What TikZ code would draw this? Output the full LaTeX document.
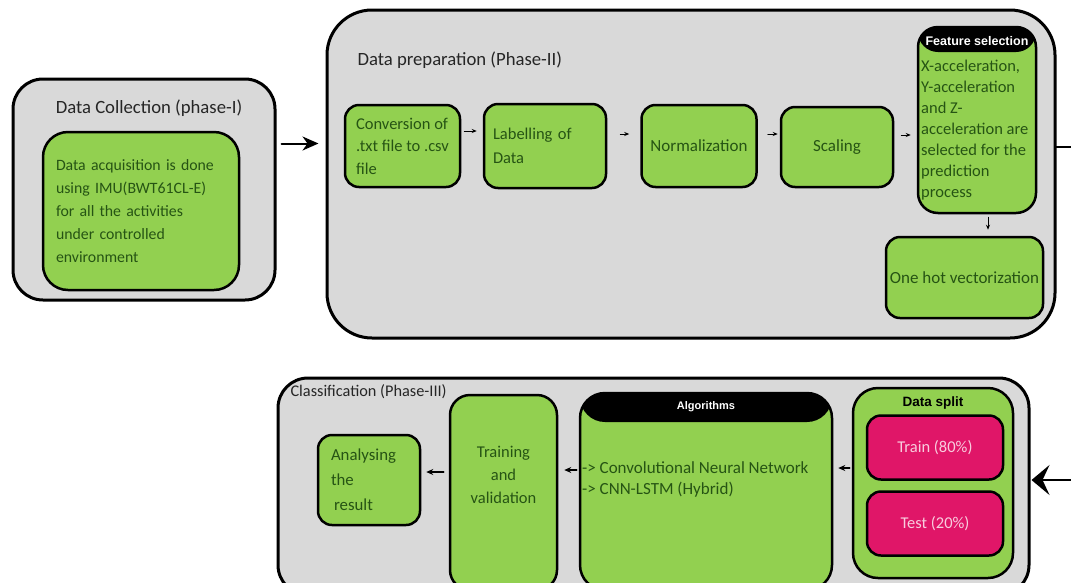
\documentclass[tikz,border=0pt]{standalone}
\usepackage{fontspec}
\setmainfont{Carlito}
\setsansfont{Liberation Sans}
\usetikzlibrary{arrows.meta, calc}
\definecolor{phasegray}{RGB}{217,217,217}
\definecolor{stagegreen}{RGB}{146,208,80}
\definecolor{txtgreen}{RGB}{38,84,20}
\definecolor{splitred}{RGB}{224,22,104}
\definecolor{splittext}{RGB}{248,205,222}

\begin{document}
\begin{tikzpicture}[x=1pt, y=-1pt, line cap=round, line join=round,
	phase/.style={draw=black, line width=3pt, fill=phasegray, rounded corners=30pt, inner sep=0pt},
	stage/.style={draw=black, line width=2.5pt, fill=stagegreen, rounded corners=14pt, text=txtgreen,
		font=\fontsize{17}{22.5}\selectfont, inner sep=1pt},
	splitbox/.style={draw=black, line width=2.5pt, fill=splitred, rounded corners=14pt, text=splittext,
		font=\fontsize{16.5}{19}\selectfont, minimum width=136pt, minimum height=64pt},
	ttl/.style={font=\fontsize{18.7}{22}\selectfont, text=black!85},
	hdr/.style={font=\sffamily\bfseries\fontsize{12.5}{14}\selectfont, text=white, inner sep=0pt},
	body/.style={font=\fontsize{16.5}{21}\selectfont, text=txtgreen, align=left, inner sep=0pt},
	sarrow/.style={-{Stealth[length=5pt,width=4pt]}, line width=0.8pt},
	larrow/.style={-{Stealth[length=7pt,width=6pt]}, line width=1.4pt},
	bigarrow/.style={-{Stealth[length=16pt,width=14pt,inset=5pt]}, line width=2pt}]
\useasboundingbox (0,0) rectangle (1071,582);

%========================
% Phase I: data collection
%========================
\node[phase, minimum width=262pt, minimum height=221pt] (ph1) at (144,189.5) {};
\node[ttl] (ph1title) at (149,108) {Data Collection (phase-I)};
\node[stage, rounded corners=25pt, minimum width=196pt, minimum height=158pt,
	text width=170pt, align=left, font=\fontsize{15.8}{23}\selectfont] (acq) at (141,211)
	{Data acquisition is done\\using IMU(BWT61CL-E)\\for all the activities\\under controlled\\environment};

%========================
% Phase II: data preparation
%========================
\node[phase, rounded corners=45pt, minimum width=728pt, minimum height=328pt] (ph2) at (691,174) {};
\node[ttl, anchor=west] (ph2title) at (354,60) {Data preparation (Phase-II)};

\node[stage, minimum width=115pt, minimum height=82pt, align=left, font=\fontsize{16.5}{22.5}\selectfont] (conv) at (402.5,146)
	{Conversion of\\.txt file to .csv\\file};
\node[stage, minimum width=122pt, minimum height=84pt, text width=104pt, align=left,
	font=\fontsize{16.5}{24}\selectfont] (lab) at (545,146) {Labelling of\\Data};
\node[stage, minimum width=115pt, minimum height=82pt] (norm) at (699,146) {Normalization};
\node[stage, minimum width=112pt, minimum height=80pt] (scale) at (837,147) {Scaling};

% feature selection, black header on top
\node[stage, rounded corners=20pt, minimum width=118pt, minimum height=186pt, inner sep=0pt,
	path picture={\fill[black] (path picture bounding box.north west)
		rectangle ([yshift=-25pt]path picture bounding box.north east);}] (feat) at (977,120) {};
\node[hdr] (feathdr) at (977,41) {Feature selection};
\node[body, anchor=west] (feattxt) at (921,130)
	{X-acceleration,\\Y-acceleration\\and Z-\\acceleration are\\selected for the\\prediction\\process};

\node[stage, minimum width=157pt, minimum height=81pt, inner sep=0pt] (onehot) at (964.5,277.5) {One hot vectorization};

% small arrows between the steps
\draw[sarrow, shorten <=3pt, shorten >=6pt] ([yshift=15pt]conv.east) -- ([yshift=15pt]conv.east -| lab.west);
\draw[sarrow, shorten <=13pt, shorten >=11pt] ([yshift=12pt]lab.east) -- ([yshift=12pt]lab.east -| norm.west);
\draw[sarrow, shorten <=10pt, shorten >=2pt] ([yshift=12pt]norm.east) -- ([yshift=12pt]norm.east -| scale.west);
\draw[sarrow, shorten <=7pt, shorten >=6pt] ([yshift=12pt]scale.east) -- ([yshift=12pt]scale.east -| feat.west);
\draw[sarrow, shorten <=3pt, shorten >=6pt] ([xshift=11pt]feat.south) -- ([xshift=11pt]feat.south |- onehot.north);

% link to phase III (leaves the picture on the right)
\coordinate (exit2) at (1071,147);
\draw[line width=2.5pt] (ph2.east |- exit2) -- (exit2);

% phase I -> phase II
\draw[bigarrow, shorten <=5pt, shorten >=7pt] ([yshift=46pt]ph1.east) -- ([yshift=46pt]ph1.east -| ph2.west);

%========================
% Phase III: classification
%========================
\node[phase, minimum width=751pt, minimum height=217pt] (ph3) at (653.5,486.5) {};
\node[ttl, anchor=west, font=\fontsize{16.3}{19}\selectfont] (ph3title) at (287,392) {Classification (Phase-III)};

\node[stage, minimum width=102pt, minimum height=90pt, text width=76pt, align=left,
	font=\fontsize{16.8}{25}\selectfont] (ana) at (369,480) {Analysing\\the\\\hspace{3pt}result};

\node[stage, rounded corners=20pt, minimum width=107pt, minimum height=195pt] (trn) at (503.5,492.5) {};
\node[body, align=center, font=\fontsize{16.5}{23}\selectfont] (trntxt) at (503.5,475) {Training\\and\\validation};

% algorithms, black header on top
\node[stage, rounded corners=25pt, minimum width=252pt, minimum height=197pt, inner sep=0pt,
	path picture={\fill[black] (path picture bounding box.north west)
		rectangle ([yshift=-29pt]path picture bounding box.north east);}] (alg) at (706,491.5) {};
\node[hdr, font=\sffamily\bfseries\fontsize{11}{13}\selectfont] (alghdr) at (706,407) {Algorithms};
\node[body, anchor=west, font=\fontsize{17}{21}\selectfont] (algtxt) at (582,479)
	{-> Convolutional Neural Network\\-> CNN-LSTM (Hybrid)};

% data split
\node[stage, rounded corners=25pt, minimum width=160pt, minimum height=190pt] (split) at (933,483) {};
\node[hdr, text=black, font=\sffamily\bfseries\fontsize{13.5}{15}\selectfont] (splithdr) at (933,403) {Data split};
\node[splitbox] (tr80) at (935,447.5) {Train (80\%)};
\node[splitbox] (te20) at (935,523.5) {Test (20\%)};

% arrows right to left
\draw[larrow, shorten <=2pt, shorten >=5pt] ([yshift=15pt]split.west) -- ([yshift=15pt]split.west -| alg.east);
\draw[larrow, shorten <=2pt, shorten >=6pt] ([yshift=21.5pt]alg.west) -- ([yshift=21.5pt]alg.west -| trn.east);
\draw[larrow, shorten <=5pt, shorten >=5pt] ([yshift=8pt]ana.east -| trn.west) -- ([yshift=8pt]ana.east);

% coming in from phase II on the right
\coordinate (entry3) at (1071,480);
\draw[bigarrow, -{Stealth[length=18pt,width=30pt,inset=7pt]}, shorten >=1pt] (entry3) -- (entry3 -| ph3.east);
\end{tikzpicture}
\end{document}
